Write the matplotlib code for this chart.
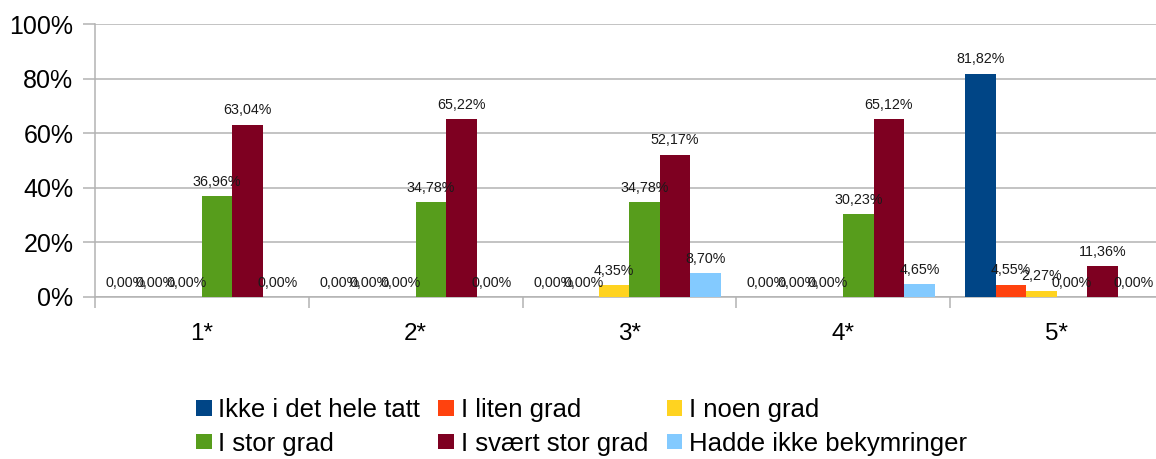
import matplotlib
matplotlib.use("Agg")
import matplotlib.pyplot as plt
import numpy as np
from matplotlib.patches import Patch

plt.rcParams['font.family'] = ['Liberation Sans', 'DejaVu Sans']

categories = ["1*", "2*", "3*", "4*", "5*"]
series_names = ["Ikke i det hele tatt", "I liten grad", "I noen grad",
                "I stor grad", "I svært stor grad", "Hadde ikke bekymringer"]
ikke = [0.00, 0.00, 0.00, 0.00, 81.82]
liten = [0.00, 0.00, 0.00, 0.00, 4.55]
noen = [0.00, 0.00, 4.35, 0.00, 2.27]
stor = [36.96, 34.78, 34.78, 30.23, 0.00]
svaert = [63.04, 65.22, 52.17, 65.12, 11.36]
hadde = [0.00, 0.00, 8.70, 4.65, 0.00]
y_ticks = [0, 20, 40, 60, 80, 100]
y_tick_labels = ["0%", "20%", "40%", "60%", "80%", "100%"]

values = [ikke, liten, noen, stor, svaert, hadde]
colors = ["#004586", "#ff420e", "#ffd320", "#579d1c", "#7e0021", "#83caff"]

W, H = 1156, 459
fig = plt.figure(figsize=(W / 100, H / 100), dpi=100)
left_px, right_px, top_px, bottom_px = 95, 95 + 5 * 213.75, 24, 297
ax = fig.add_axes([left_px / W, (H - bottom_px) / H,
                   (right_px - left_px) / W, (bottom_px - top_px) / H])

x = np.arange(len(categories))
bw = 30.5 / 213.75
for k, (vals, col) in enumerate(zip(values, colors)):
    pos = x + (k - 2.5) * bw
    ax.bar(pos, vals, width=bw, color=col, zorder=3, label=series_names[k])
    for p, v in zip(pos, vals):
        ax.annotate(f"{v:.2f}%".replace('.', ','), (p, v), xytext=(0, 7.5),
                    textcoords='offset points', ha='center', va='baseline',
                    fontsize=10.3, color='#1a1a1a', zorder=4,
                    annotation_clip=False)

ax.set_xlim(-0.5, 4.5)
ax.set_ylim(0, 100)
ax.set_yticks(y_ticks)
ax.set_yticklabels(y_tick_labels, fontsize=18)
ax.yaxis.grid(True, color='#b3b3b3', linewidth=1.1, zorder=0)
ax.set_axisbelow(True)

ax.set_xticks(np.arange(-0.5, 5.0, 1.0))
ax.set_xticklabels([])
ax.set_xticks(x, minor=True)
ax.set_xticklabels(categories, minor=True, fontsize=17.5)
ax.tick_params(axis='x', which='major', length=8, width=1.1, color='#b3b3b3', direction='out')
ax.tick_params(axis='x', which='minor', length=0, pad=19)
ax.tick_params(axis='y', length=8.6, width=1.1, color='#b3b3b3', pad=7, labelcolor='#000000')

for s in ['top', 'right']:
    ax.spines[s].set_visible(False)
for s in ['left', 'bottom']:
    ax.spines[s].set_color('#b3b3b3')
    ax.spines[s].set_linewidth(1.1)

handles = [Patch(facecolor=c, edgecolor='none') for c in colors]
order = [0, 3, 1, 4, 2, 5]
leg = fig.legend([handles[i] for i in order], [series_names[i] for i in order],
                 ncol=3, loc='center', bbox_to_anchor=(581.5 / W, (H - 427) / H),
                 frameon=False, fontsize=18.5, handlelength=0.62, handleheight=0.56,
                 handletextpad=0.27, columnspacing=0.7, labelspacing=0.36,
                 borderaxespad=0, borderpad=0)

fig.savefig("out.png", dpi=100)
